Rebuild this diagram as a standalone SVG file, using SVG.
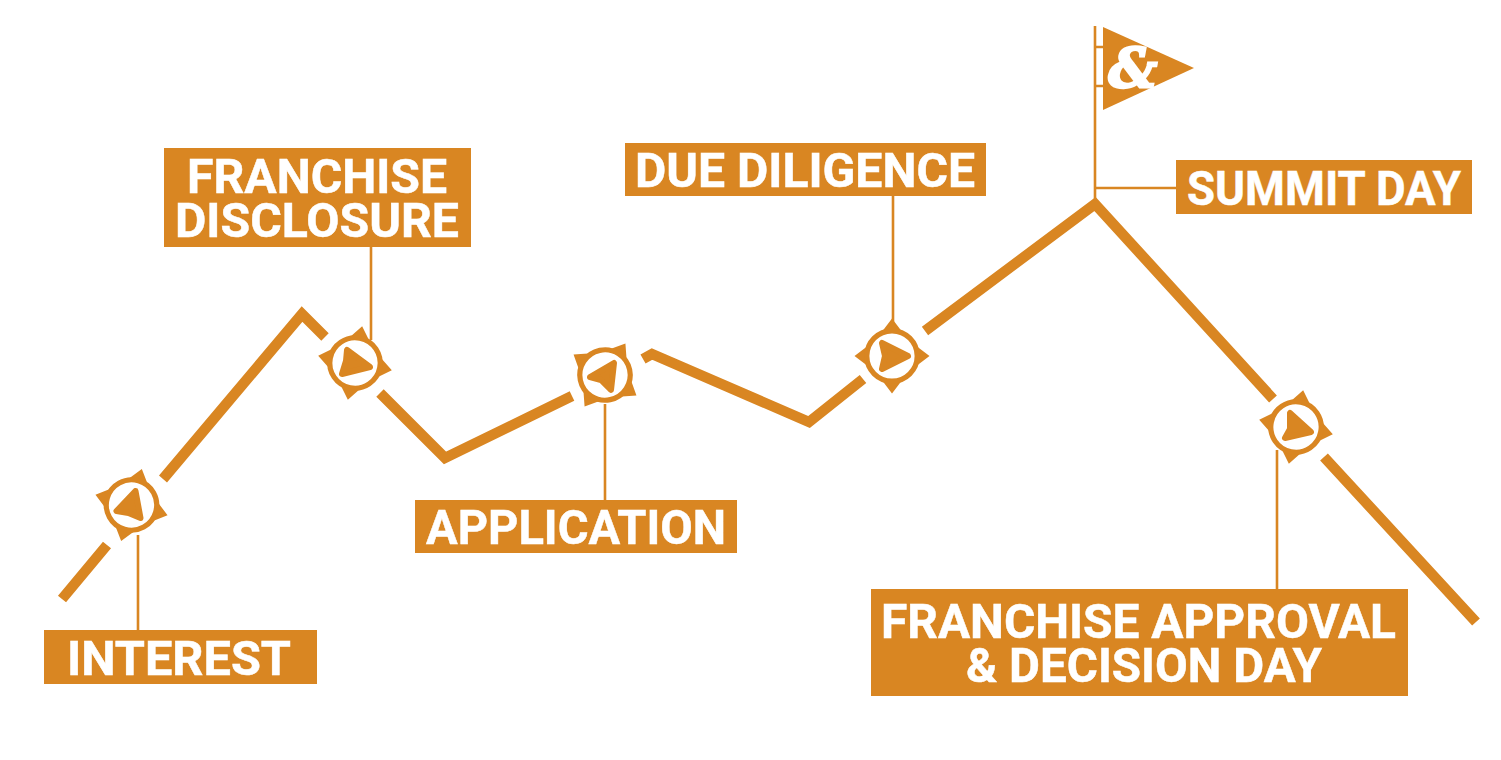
<svg xmlns="http://www.w3.org/2000/svg" width="1501" height="760" viewBox="0 0 1501 760">
<style>
.trail{fill:none;stroke:#d98622;stroke-width:10.500;stroke-linejoin:miter}
.lead{fill:none;stroke:#d98622;stroke-width:2.600}
.box{fill:#d98622}
.lbl{font-family:"Roboto","Liberation Sans",sans-serif;font-weight:700;font-size:49px;fill:#fff;stroke:#fff;stroke-width:.5;text-anchor:start}
.ptr{fill:#d98622;stroke:#d98622;stroke-width:6;stroke-linejoin:round}
</style>
<defs>
<g id="dial">
<path class="box" d="M-11-23 0-37.500 11-23ZM23-11 37.500 0 23 11ZM11 23 0 37.500-11 23ZM-23 11-37.500 0-23-11Z"/>
<circle r="25.200" fill="#fff" stroke="#d98622" stroke-width="5.200"/>
</g>
</defs>
<rect width="1501" height="760" fill="#fff"/>
<g id="connectors">
<path class="trail" d="M62 599 107 545M163 479 302 314 325 337M380 393 445 458 572 396M643 359 652 354 809 422 863 379M925 331 1095 204 1273 399M1324 457 1476 622"/>
<path class="lead" d="M138 535V630M371 247V340M605 404V500M893 196V325M1277 450V589M1095 188H1176"/>
</g>
<g id="flag">
<path class="lead" d="M1095 26V200M1095 47H1103M1095 86H1103"/>
<path class="box" d="M1103 27 1194 68 1103 110Z"/>
<text x="1133" y="87" font-family="'DejaVu Serif','Liberation Serif',serif" font-weight="700" font-style="italic" font-size="54" fill="#fff" stroke="#fff" stroke-width="2.500" text-anchor="middle">&amp;</text>
</g>
<g id="dial-interest" transform="translate(131.500 505)">
<use href="#dial" transform="rotate(16)"/>
<path class="ptr" d="M4-14-15 6-3 8 9 13Z"/>
</g>
<g id="dial-disclosure" transform="translate(355 363)">
<use href="#dial" transform="rotate(11)"/>
<path class="ptr" d="M15 4-8-13-9-2-13 11Z"/>
</g>
<g id="dial-application" transform="translate(605 375)">
<use href="#dial" transform="rotate(33)"/>
<path class="ptr" d="M-15 2 9-12 6 15-4 5Z"/>
</g>
<g id="dial-diligence" transform="translate(892 356)">
<use href="#dial"/>
<path class="ptr" d="M16 0-10-13-7 0-10 13Z"/>
</g>
<g id="dial-approval" transform="translate(1296 427)">
<use href="#dial" transform="rotate(11)"/>
<path class="ptr" d="M15 5-6-14-6 2-11 11Z"/>
</g>
<g id="node-interest">
<rect class="box" x="44" y="630" width="273" height="54"/>
<text class="lbl" x="67" y="675" textLength="224" lengthAdjust="spacingAndGlyphs">INTEREST</text>
</g>
<g id="node-disclosure">
<rect class="box" x="164" y="148" width="307" height="99"/>
<text class="lbl" x="187" y="193" textLength="260" lengthAdjust="spacingAndGlyphs">FRANCHISE</text>
<text class="lbl" x="175" y="237" textLength="284" lengthAdjust="spacingAndGlyphs">DISCLOSURE</text>
</g>
<g id="node-application">
<rect class="box" x="415" y="500" width="322" height="53"/>
<text class="lbl" x="426" y="544" textLength="300" lengthAdjust="spacingAndGlyphs">APPLICATION</text>
</g>
<g id="node-diligence">
<rect class="box" x="625" y="143" width="361" height="53"/>
<text class="lbl" x="635" y="187" textLength="340" lengthAdjust="spacingAndGlyphs">DUE DILIGENCE</text>
</g>
<g id="node-summit">
<rect class="box" x="1176" y="160" width="296" height="54"/>
<text class="lbl" x="1187" y="205" textLength="274" lengthAdjust="spacingAndGlyphs">SUMMIT DAY</text>
</g>
<g id="node-approval">
<rect class="box" x="871" y="589" width="537" height="107"/>
<text class="lbl" x="881" y="638" textLength="515" lengthAdjust="spacingAndGlyphs">FRANCHISE APPROVAL</text>
<text class="lbl" x="966" y="682" textLength="356" lengthAdjust="spacingAndGlyphs">&amp; DECISION DAY</text>
</g>
</svg>
